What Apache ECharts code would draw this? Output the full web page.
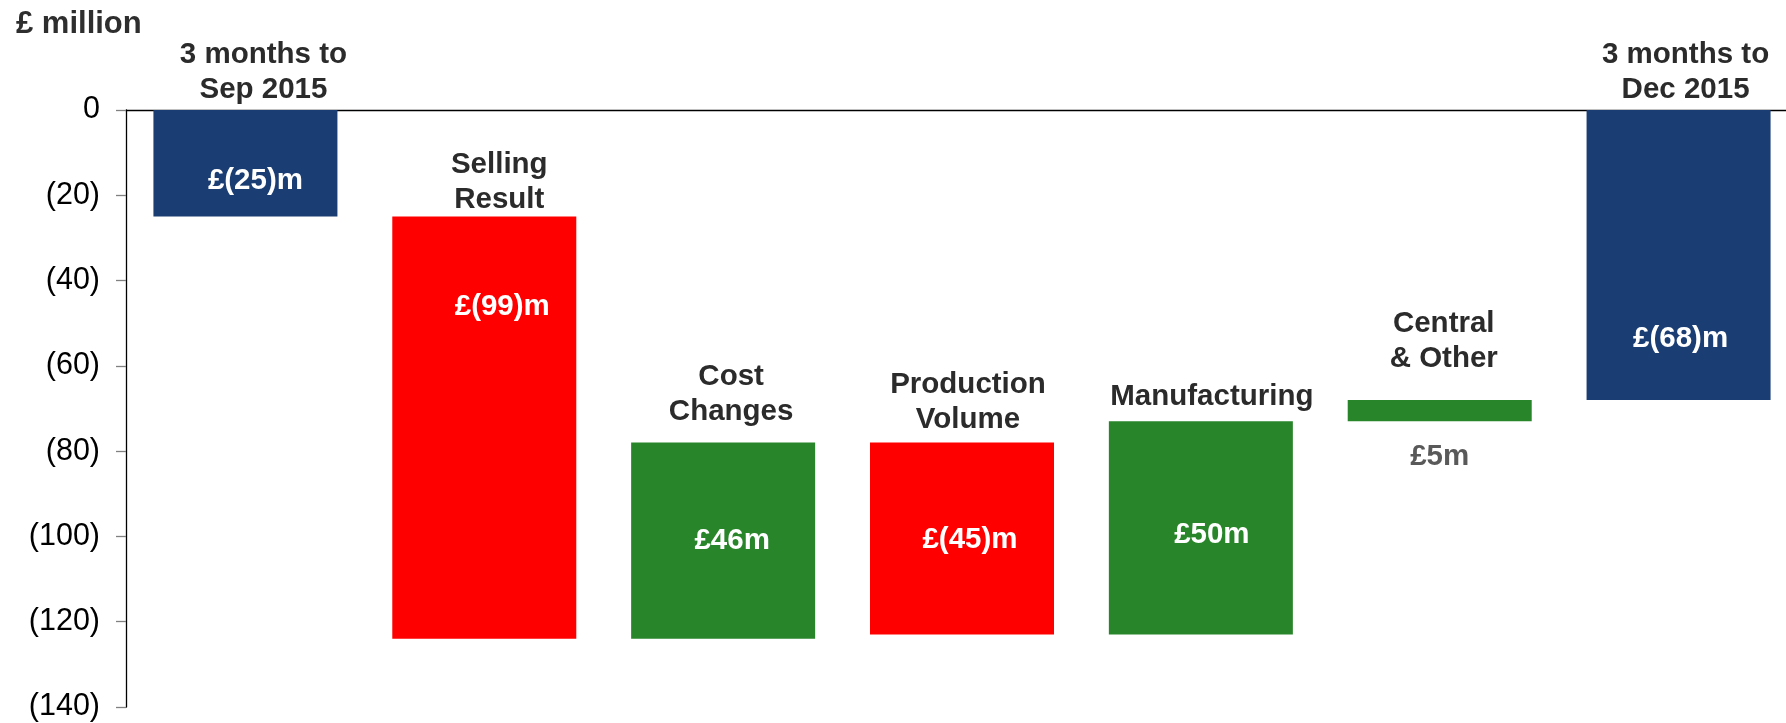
<!DOCTYPE html>
<html>
<head>
<meta charset="utf-8">
<script src="https://cdn.jsdelivr.net/npm/echarts@6/dist/echarts.min.js"></script>
<style>
html,body{margin:0;padding:0;background:#fff;}
#chart{width:1786px;height:723px;}
</style>
</head>
<body>
<div id="chart"></div>
<script>
// ---- data ----
const categories = ['3 months to\nSep 2015', 'Selling\nResult', 'Cost\nChanges', 'Production\nVolume', 'Manufacturing', 'Central\n& Other', '3 months to\nDec 2015'];
const deltas = [-25, -99, 46, -45, 50, 5, -68];
const isTotal = [true, false, false, false, false, false, true];
const valueLabels = ['£(25)m', '£(99)m', '£46m', '£(45)m', '£50m', '£5m', '£(68)m'];
const yMin = -140, yMax = 0, yStep = 20;
const unitLabel = '£ million';

// ---- styles / layout ----
const NAVY = '#1a3d73', RED = '#ff0000', GREEN = '#28852a';
const catOffsets = [[18, -38], [15, -34], [8, -48], [6, -40], [11, -24], [4, -59], [7, -38]];
const valOffsets = [[10, 18], [18, -121], [9, 0], [8, 1], [11, 7], [0, 46], [2, 84]];
const valColors = ['#fff', '#fff', '#fff', '#fff', '#fff', '#595959', '#fff'];

// ---- waterfall computation ----
let running = 0;
const baseVals = [], spanVals = [], hiVals = [], midVals = [], colors = [];
deltas.forEach((d, i) => {
  let hi, lo, col;
  if (isTotal[i]) {
    hi = 0; lo = d;
    running = d; col = NAVY;
  } else {
    const prev = running, next = prev + d;
    hi = Math.max(prev, next); lo = Math.min(prev, next);
    running = next; col = d >= 0 ? GREEN : RED;
  }
  baseVals.push(hi);
  spanVals.push(lo - hi);
  hiVals.push(hi);
  midVals.push((hi + lo) / 2);
  colors.push(col);
});

const FONT = '"Liberation Sans", Arial, sans-serif';

const chart = echarts.init(document.getElementById('chart'), null, {renderer: 'canvas'});
chart.setOption({
  animation: false,
  backgroundColor: '#fff',
  title: {
    text: unitLabel, left: 11, top: 4,
    textStyle: {fontFamily: FONT, fontSize: 31, fontWeight: 'bold', color: '#2e2e2e'}
  },
  grid: {left: 126, top: 110, width: 1672, height: 597, containLabel: false, outerBoundsMode: 'none'},
  xAxis: {
    type: 'category', data: categories, position: 'top',
    axisLine: {show: true, onZero: false, lineStyle: {color: '#000', width: 1.3}},
    axisTick: {show: false}, axisLabel: {show: false}, splitLine: {show: false}
  },
  yAxis: {
    type: 'value', min: yMin, max: yMax, interval: yStep,
    axisLine: {show: true, lineStyle: {color: '#000', width: 1.3}},
    axisTick: {show: true, inside: false, length: 10, lineStyle: {color: '#808080', width: 1.3}},
    splitLine: {show: false},
    axisLabel: {
      margin: 26, fontFamily: FONT, fontSize: 30.5, color: '#000',
      formatter: v => v < 0 ? '(' + Math.abs(v) + ')' : String(v)
    }
  },
  series: [
    {
      type: 'bar', stack: 'wf', barWidth: 184, silent: true,
      itemStyle: {color: 'transparent'},
      data: baseVals
    },
    {
      type: 'bar', stack: 'wf', barWidth: 184,
      data: spanVals.map((v, i) => ({value: v, itemStyle: {color: colors[i]}}))
    },
    {
      type: 'scatter', symbolSize: 0, silent: true,
      itemStyle: {opacity: 1},
      data: hiVals.map((v, i) => ({
        value: [i, v],
        label: {
          show: true, position: 'inside', offset: catOffsets[i],
          formatter: categories[i],
          fontFamily: FONT, fontSize: 29.5, fontWeight: 'bold', color: '#2b2b2b',
          lineHeight: 35, align: 'center'
        }
      }))
    },
    {
      type: 'scatter', symbolSize: 0, silent: true,
      itemStyle: {opacity: 1},
      data: midVals.map((v, i) => ({
        value: [i, v],
        label: {
          show: true, position: 'inside', offset: valOffsets[i],
          formatter: valueLabels[i],
          fontFamily: FONT, fontSize: 29.5, fontWeight: 'bold', color: valColors[i]
        }
      }))
    }
  ]
});
</script>
</body>
</html>
